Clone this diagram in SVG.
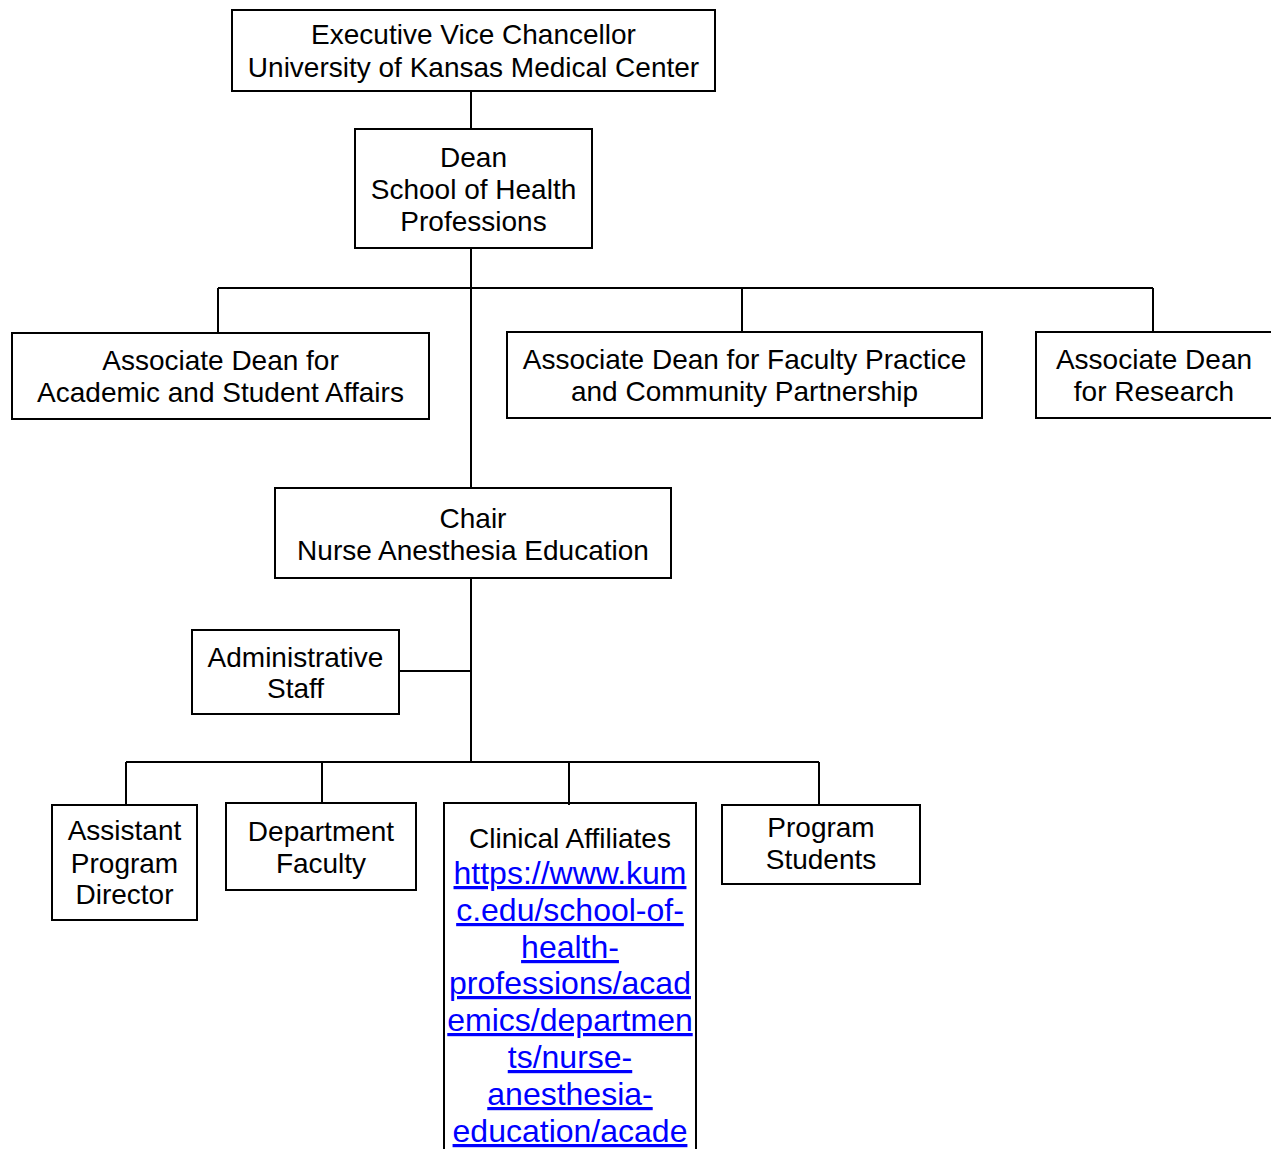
<svg xmlns="http://www.w3.org/2000/svg" width="1271" height="1149" viewBox="0 0 1271 1149">
<style>
.box{fill:#fff;stroke:#000;stroke-width:2}
.lbl{font-family:"Liberation Sans",Arial,sans-serif;font-size:28px;fill:#000;text-anchor:middle}
.link{font-family:"Liberation Sans",Arial,sans-serif;font-size:32px;fill:#0000ff;text-anchor:middle;text-decoration:underline}
.con{fill:none;stroke:#000;stroke-width:2}
</style>
<rect width="1271" height="1149" fill="#fff"/>
<g id="connectors">
<path class="con" d="M471 91V129M471 248V488M218 288H1153M218 288V333M742 288V332M1153 288V332M471 578V762M400 671H471M126 762H819M126 762V805M322 762V803M569 762V805M819 762V805"/>
</g>
<g id="evc">
<rect class="box" x="232" y="10" width="483" height="81"/>
<text class="lbl" x="473.5" y="44">Executive Vice Chancellor</text>
<text class="lbl" x="473.5" y="77">University of Kansas Medical Center</text>
</g>
<g id="dean">
<rect class="box" x="355" y="129" width="237" height="119"/>
<text class="lbl" x="473.5" y="167">Dean</text>
<text class="lbl" x="473.5" y="199">School of Health</text>
<text class="lbl" x="473.5" y="231">Professions</text>
</g>
<g id="ad-academic">
<rect class="box" x="12" y="333" width="417" height="86"/>
<text class="lbl" x="220.5" y="370">Associate Dean for</text>
<text class="lbl" x="220.5" y="402">Academic and Student Affairs</text>
</g>
<g id="ad-practice">
<rect class="box" x="507" y="332" width="475" height="86"/>
<text class="lbl" x="744.5" y="369">Associate Dean for Faculty Practice</text>
<text class="lbl" x="744.5" y="401">and Community Partnership</text>
</g>
<g id="ad-research">
<rect class="box" x="1036" y="332" width="240" height="86"/>
<text class="lbl" x="1154" y="369">Associate Dean</text>
<text class="lbl" x="1154" y="401">for Research</text>
</g>
<g id="chair">
<rect class="box" x="275" y="488" width="396" height="90"/>
<text class="lbl" x="473" y="528">Chair</text>
<text class="lbl" x="473" y="560">Nurse Anesthesia Education</text>
</g>
<g id="admin">
<rect class="box" x="192" y="630" width="207" height="84"/>
<text class="lbl" x="295.5" y="667">Administrative</text>
<text class="lbl" x="295.5" y="698">Staff</text>
</g>
<g id="assistant">
<rect class="box" x="52" y="805" width="145" height="115"/>
<text class="lbl" x="124.5" y="840">Assistant</text>
<text class="lbl" x="124.5" y="873">Program</text>
<text class="lbl" x="124.5" y="904">Director</text>
</g>
<g id="faculty">
<rect class="box" x="226" y="803" width="190" height="87"/>
<text class="lbl" x="321" y="841">Department</text>
<text class="lbl" x="321" y="873">Faculty</text>
</g>
<g id="clinical">
<path class="con" d="M444 1149V803H696V1149"/>
<text class="lbl" x="570" y="848">Clinical Affiliates</text>
<text class="link" x="570" y="884">https://www.kum</text>
<text class="link" x="570" y="921">c.edu/school-of-</text>
<text class="link" x="570" y="958">health-</text>
<text class="link" x="570" y="994">professions/acad</text>
<text class="link" x="570" y="1031">emics/departmen</text>
<text class="link" x="570" y="1068">ts/nurse-</text>
<text class="link" x="570" y="1105">anesthesia-</text>
<text class="link" x="570" y="1142">education/acade</text>
</g>
<g id="students">
<rect class="box" x="722" y="805" width="198" height="79"/>
<text class="lbl" x="821" y="837">Program</text>
<text class="lbl" x="821" y="869">Students</text>
</g>
</svg>
